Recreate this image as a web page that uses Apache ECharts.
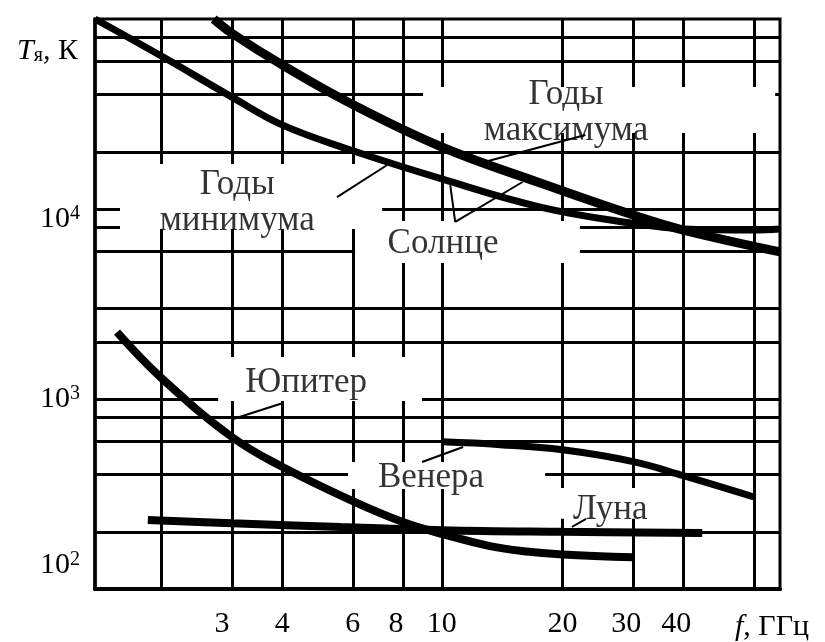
<!DOCTYPE html>
<html>
<head>
<meta charset="utf-8">
<script src="https://cdn.jsdelivr.net/npm/echarts@6/dist/echarts.min.js"></script>
<style>
  html, body { margin: 0; padding: 0; background: #fff; }
  #chart { width: 825px; height: 642px; }
</style>
</head>
<body>
<div id="chart"></div>
<script>
// Grid lines and tick labels: frequency in GHz, brightness temperature in K
const freqGrid = [2, 3, 4, 6, 8, 10, 20, 30, 40, 60];
const freqTickLabels = [3, 4, 6, 8, 10, 20, 30, 40];
const tempGrid = [200, 400, 600, 800, 1000, 2000, 3000, 6000, 8000, 10000, 20000, 40000, 60000, 80000];
const tempTickLabels = [100, 1000, 10000];

// Sun, years of maximum activity
const sunMaxFreq = [2.7, 3, 4, 5.9, 10, 17.6, 30, 40, 69.7];
const sunMaxTemp = [100000, 84000, 57300, 36100, 21200, 13700, 9290, 7750, 5950];
// Sun, years of minimum activity
const sunMinFreq = [1.366, 2, 3, 4, 5.9, 10, 17.6, 30, 40, 60, 69.7];
const sunMinTemp = [100000, 63800, 38800, 27700, 20500, 14400, 10240, 8400, 7850, 7750, 7850];
// Jupiter
const jupiterFreq = [1.55, 2, 3, 4, 6, 8, 10, 13.2, 16, 20, 30];
const jupiterTemp = [2250, 1290, 630, 440, 290, 225, 195, 168, 158, 152, 147];
// Venus
const venusFreq = [10, 14, 20, 30, 40, 60];
const venusTemp = [595, 575, 540, 468, 395, 305];
// Moon
const moonFreq = [1.85, 3, 5.6, 10, 20, 44.6];
const moonTemp = [231, 222, 212, 204, 200, 197];

// Callout texts and where they sit (GHz, K)
const calloutText = ['Годы\nминимума', 'Годы\nмаксимума', 'Солнце', 'Юпитер', 'Венера', 'Луна'];
const calloutFreq = [3.09, 20.4, 10.07, 4.59, 9.4, 26.3];
const calloutTemp = [10790, 31900, 6550, 1214, 384, 260];

// White panels behind the callouts: [fLow, fHigh], [tLow, tHigh]
const panelFreq = [[1.577, 7.1], [6.08, 22.1], [8.98, 67.8], [2.77, 8.93], [5.84, 18.1], [18.4, 36.1]];
const panelTemp = [[7850, 17260], [5200, 8650], [25100, 43900], [975, 1665], [336, 466], [234, 340]];

// Pointer strokes from callouts to curves: [from, to] as [GHz, K]
const pointerMin = [[5.48, 11560], [7.31, 17050]];
const pointerMax = [[22.8, 24500], [12.5, 17460]];
const pointerSunA = [[10.8, 8550], [10.5, 13370]];
const pointerSunB = [[10.8, 8550], [15.9, 13870]];
const pointerJupiter = [[4.02, 952], [3.02, 785]];
const pointerVenus = [[8.93, 466], [11.3, 559]];
const pointerMoon = [[21.1, 212], [22.9, 234]];

const SERIF = '"Liberation Serif", "Times New Roman", serif';
const INK = '#000';

function zip(fs, ts) { return fs.map((f, i) => [f, ts[i]]); }

function curve(name, fs, ts, width) {
  return {
    name: name, type: 'line', data: zip(fs, ts),
    showSymbol: false, symbol: 'none', smooth: 0.4, clip: false, silent: true,
    lineStyle: { color: INK, width: width, cap: 'butt' }, z: 3
  };
}

function pointer(pts) {
  return {
    type: 'line', data: pts, showSymbol: false, symbol: 'none', silent: true,
    lineStyle: { color: INK, width: 2 }, z: 3
  };
}

// "10" with the exponent raised; each decade has its own text style
function powerLabel(v) {
  const e = Math.round(Math.log10(v));
  return '{b' + e + '|10}{s' + e + '|' + e + '}';
}

// frequency labels, a few set slightly left of their grid line
function freqLabel(v) {
  if (v === 3) return '{w|' + v + '}';
  if (v === 8 || v === 30 || v === 40) return '{n|' + v + '}';
  return '{c|' + v + '}';
}

const plain = { fontFamily: SERIF, fontSize: 30, color: INK, fontWeight: 'normal' };
const sup = { fontFamily: SERIF, fontSize: 20, color: INK, fontWeight: 'normal', verticalAlign: 'top' };

const chart = echarts.init(document.getElementById('chart'));

chart.setOption({
  animation: false,
  backgroundColor: '#fff',
  grid: {
    left: 95, right: 45, top: 19, bottom: 53,
    show: true, borderColor: INK, borderWidth: 3,
    outerBoundsMode: 'none'
  },
  title: [
    {
      text: '{t|T}{s|я}{r|, К}',
      left: 12, top: 31,
      textStyle: {
        fontWeight: 'normal',
        rich: {
          t: Object.assign({}, plain, { fontStyle: 'italic' }),
          s: { fontFamily: SERIF, fontSize: 20, color: INK, fontWeight: 'normal', verticalAlign: 'bottom', padding: [8, 0, 0, 0] },
          r: plain
        }
      }
    },
    {
      text: '{i|f}{r|, ГГц}',
      left: 730, top: 607,
      textStyle: {
        fontWeight: 'normal',
        rich: {
          i: Object.assign({}, plain, { fontStyle: 'italic' }),
          r: plain
        }
      }
    }
  ],
  xAxis: {
    type: 'log', logBase: 10, min: 1.366, max: 69.7,
    axisLine: { show: true, lineStyle: { color: INK, width: 4 } },
    axisTick: { show: false, customValues: freqGrid },
    splitLine: { show: true, lineStyle: { color: INK, width: 3 } },
    axisLabel: {
      customValues: freqTickLabels,
      margin: 20,
      formatter: freqLabel,
      rich: {
        c: plain,
        n: Object.assign({}, plain, { padding: [0, 14, 0, 0] }),
        w: Object.assign({}, plain, { padding: [0, 20, 0, 0] })
      }
    }
  },
  yAxis: {
    type: 'log', logBase: 10, min: 100, max: 100000,
    axisLine: { show: true, lineStyle: { color: INK, width: 3.5 } },
    axisTick: { show: false, customValues: tempGrid },
    splitLine: { show: true, lineStyle: { color: INK, width: 3 } },
    axisLabel: {
      customValues: tempTickLabels,
      margin: 15,
      formatter: powerLabel,
      rich: {
        b2: Object.assign({}, plain, { padding: [0, 0, 48, 0] }),
        s2: sup,
        b3: plain,
        s3: sup,
        b4: Object.assign({}, plain, { padding: [20, 0, 0, 0] }),
        s4: Object.assign({}, sup, { padding: [20, 0, 0, 0] })
      }
    }
  },
  series: [
    {
      // white panels that interrupt the grid behind the callouts
      type: 'line', data: [], silent: true,
      markArea: {
        silent: true,
        itemStyle: { color: '#fff', opacity: 1, borderWidth: 0 },
        label: { show: false },
        data: panelFreq.map((f, i) => [
          { coord: [f[0], panelTemp[i][0]] },
          { coord: [f[1], panelTemp[i][1]] }
        ])
      }
    },
    curve('Годы максимума', sunMaxFreq, sunMaxTemp, 9),
    curve('Годы минимума', sunMinFreq, sunMinTemp, 7),
    curve('Юпитер', jupiterFreq, jupiterTemp, 8),
    curve('Венера', venusFreq, venusTemp, 7),
    curve('Луна', moonFreq, moonTemp, 8),
    pointer(pointerMin), pointer(pointerMax), pointer(pointerSunA), pointer(pointerSunB),
    pointer(pointerJupiter), pointer(pointerVenus), pointer(pointerMoon),
    {
      type: 'scatter', symbolSize: 1, silent: true, z: 4,
      itemStyle: { color: 'rgba(0,0,0,0)' },
      data: calloutText.map((t, i) => ({ value: [calloutFreq[i], calloutTemp[i]], name: t })),
      label: {
        show: true, position: 'inside',
        formatter: p => p.name,
        fontFamily: SERIF, fontSize: 35, color: INK,
        lineHeight: 36, align: 'center', verticalAlign: 'middle'
      }
    }
  ]
});
</script>
</body>
</html>
